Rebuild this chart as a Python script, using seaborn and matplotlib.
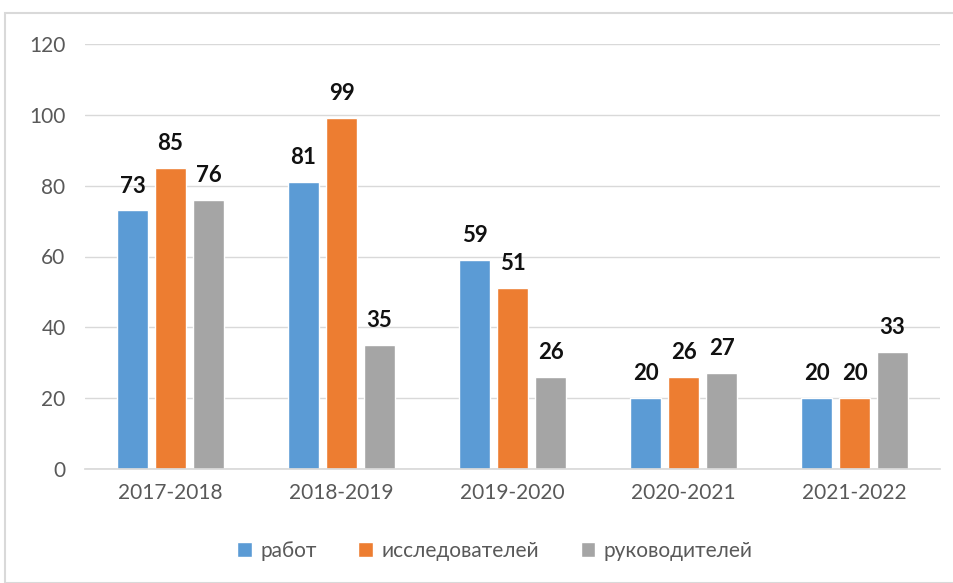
import matplotlib
matplotlib.use("Agg")
import matplotlib.pyplot as plt
import seaborn as sns
import pandas as pd
from matplotlib.patches import Rectangle

years = ["2017-2018", "2018-2019", "2019-2020", "2020-2021", "2021-2022"]
series = ["работ", "исследователей", "руководителей"]
rabot = [73, 81, 59, 20, 20]
issled = [85, 99, 51, 26, 20]
rukov = [76, 35, 26, 27, 33]
colors = ["#5B9BD5", "#ED7D31", "#A5A5A5"]

df = pd.DataFrame({
    "year": years * 3,
    "series": [series[0]] * 5 + [series[1]] * 5 + [series[2]] * 5,
    "value": rabot + issled + rukov,
})

sns.set_theme(style="white")
plt.rcParams["font.family"] = ["Lato", "DejaVu Sans"]

fig = plt.figure(figsize=(9.54, 5.83), dpi=100)
ax = fig.add_axes([85 / 954, 114 / 583, 855 / 954, 425 / 583])

sns.barplot(data=df, x="year", y="value", hue="series", palette=colors,
            width=0.667, gap=0.18, ax=ax, legend=True, saturation=1)

for cont in ax.containers:
    ax.bar_label(cont, fmt="%d", padding=10, fontsize=16, fontweight="bold", color="#111111")

ax.set_ylim(0, 120)
ax.set_yticks(range(0, 121, 20))
ax.set_xlim(-0.5, 4.5)
ax.grid(axis="y", color="#D9D9D9", linewidth=1)
ax.set_axisbelow(True)
for s in ["top", "right", "left"]:
    ax.spines[s].set_visible(False)
ax.spines["bottom"].set_color("#D9D9D9")
ax.tick_params(axis="both", colors="#595959", labelsize=15, length=0)
ax.tick_params(axis="y", pad=14)
ax.tick_params(axis="x", pad=10)
ax.set_xlabel("")
ax.set_ylabel("")

h, l = ax.get_legend_handles_labels()
ax.legend(h, l, loc="center", bbox_to_anchor=(495 / 954, 1 - 551 / 583), bbox_transform=fig.transFigure,
          ncol=3, frameon=False, fontsize=15, handlelength=0.7, handleheight=0.7,
          handletextpad=0.4, columnspacing=2.0, labelcolor="#595959")

fig.patches.append(Rectangle((5 / 954, 0), 1.2, 1 - 13 / 583, transform=fig.transFigure,
                             fill=False, edgecolor="#D9D9D9", linewidth=1.5))

fig.savefig("out.png", dpi=100)
